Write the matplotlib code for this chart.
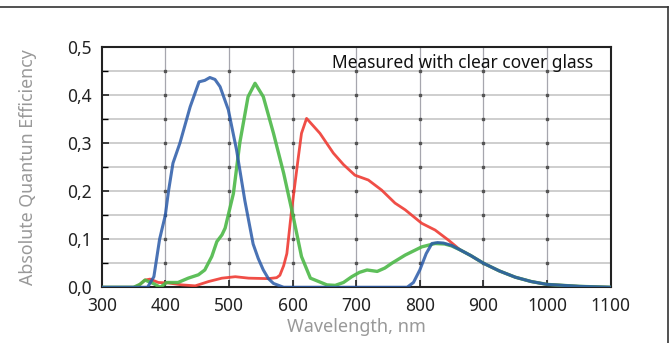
import numpy as np
import matplotlib
matplotlib.use("Agg")
import matplotlib.pyplot as plt
from matplotlib.lines import Line2D
from matplotlib.ticker import FuncFormatter, MultipleLocator

plt.rcParams['font.family'] = ['Noto Sans', 'DejaVu Sans']

# tail shared by all three channels past ~860 nm
tail_nm = [863, 880, 900, 925, 950, 975, 1000, 1050, 1100]
tail_qe = [0.078, 0.066, 0.050, 0.034, 0.021, 0.012, 0.006, 0.002, 0.0]

blue_nm = [300, 372, 382, 391, 400, 405, 412, 423, 439, 453, 462, 470, 478, 486,
           499, 512, 525, 538, 546, 554, 562, 570, 586, 780, 790, 800, 810, 819,
           828, 837, 850] + tail_nm
blue_qe = [0, 0, 0.022, 0.10, 0.15, 0.20, 0.258, 0.30, 0.375, 0.427, 0.43, 0.436,
           0.432, 0.417, 0.369, 0.285, 0.18, 0.09, 0.06, 0.036, 0.018, 0.008, 0,
           0, 0.01, 0.036, 0.07, 0.091, 0.093, 0.092, 0.087] + tail_qe

green_nm = [300, 350, 360, 368, 381, 392, 402, 420, 436, 452, 462, 473, 481, 489,
            494, 507, 517, 530, 541, 554, 570, 586, 601, 614, 628, 654, 667, 680,
            693, 705, 717, 733, 745, 756, 777, 803, 824, 839, 850] + tail_nm
green_qe = [0, 0, 0.006, 0.015, 0.008, 0.0, 0.01, 0.01, 0.019, 0.026, 0.036, 0.064,
            0.095, 0.109, 0.123, 0.195, 0.30, 0.396, 0.424, 0.396, 0.32, 0.237,
            0.147, 0.064, 0.019, 0.005, 0.004, 0.01, 0.022, 0.031, 0.036, 0.033,
            0.04, 0.05, 0.067, 0.084, 0.091, 0.09, 0.086] + tail_qe

red_nm = [300, 352, 360, 368, 376, 389, 405, 426, 447, 468, 489, 510, 531, 562,
          575, 580, 586, 591, 598, 609, 614, 622, 643, 664, 680, 698, 719, 740,
          761, 777, 803, 824, 845, 855] + tail_nm
red_qe = [0, 0, 0.006, 0.015, 0.017, 0.01, 0.009, 0.005, 0.003, 0.012, 0.019,
          0.022, 0.019, 0.018, 0.02, 0.025, 0.045, 0.07, 0.155, 0.27, 0.32, 0.351,
          0.32, 0.279, 0.255, 0.233, 0.223, 0.202, 0.175, 0.161, 0.133, 0.119,
          0.098, 0.087] + tail_qe

x_ticks = [300, 400, 500, 600, 700, 800, 900, 1000, 1100]
y_ticks = [0.0, 0.1, 0.2, 0.3, 0.4, 0.5]

fig = plt.figure(figsize=(6.7, 3.43), dpi=100)
ax = fig.add_axes([0.1518, 0.1624, 0.7597, 0.7014])

ax.set_xlim(300, 1100)
ax.set_ylim(0, 0.5)

# grid: light horizontal every 0.05, darker vertical every 100 nm
ax.yaxis.set_minor_locator(MultipleLocator(0.05))
for yv in np.arange(0.05, 0.5, 0.05):
    ax.axhline(yv, color='#cacaca', lw=1.3, zorder=1)
for xv in x_ticks[1:-1]:
    ax.axvline(xv, color='#a6a6ae', lw=0.9, zorder=1.2)
gx, gy = np.meshgrid(x_ticks[1:-1], np.arange(0.05, 0.5, 0.05))
ax.plot(gx.ravel(), gy.ravel(), ls='none', marker='s', ms=1.6, color='#555555', zorder=1.5)

ax.plot(red_nm, red_qe, color='#ef3b33', lw=2.0, alpha=0.9, zorder=3)
ax.plot(green_nm, green_qe, color='#4cb848', lw=2.4, alpha=0.9, zorder=3)
ax.plot(blue_nm, blue_qe, color='#2a5aa8', lw=2.2, alpha=0.85, zorder=4)

ax.set_xticks(x_ticks)
ax.set_yticks(y_ticks)
ax.yaxis.set_major_formatter(FuncFormatter(lambda v, p: f"{v:.1f}".replace('.', ',')))
ax.tick_params(axis='both', direction='in', length=5, width=1.2, labelsize=12.5,
               colors='#222222')
ax.tick_params(axis='x', pad=7)
ax.tick_params(axis='y', pad=7)
ax.tick_params(which='minor', direction='in', length=4, width=1.0, left=True)
for s in ax.spines.values():
    s.set_linewidth(1.5)
    s.set_color('#222222')

ax.set_xlabel('Wavelength, nm', color='#999999', fontsize=13, labelpad=2)
ax.set_ylabel('Absolute Quantun Efficiency', color='#999999', fontsize=12.8, labelpad=22)

ax.text(0.965, 0.912, 'Measured with clear cover glass', transform=ax.transAxes,
        ha='right', va='baseline', fontsize=12.5, color='#111111', zorder=5)

# outer frame (top and right edges)
fig.add_artist(Line2D([0, 0.997], [0.979, 0.979], color='#333333', lw=1.2))
fig.add_artist(Line2D([0.997, 0.997], [0, 0.979], color='#333333', lw=1.2))

fig.savefig('out.png', dpi=100)
